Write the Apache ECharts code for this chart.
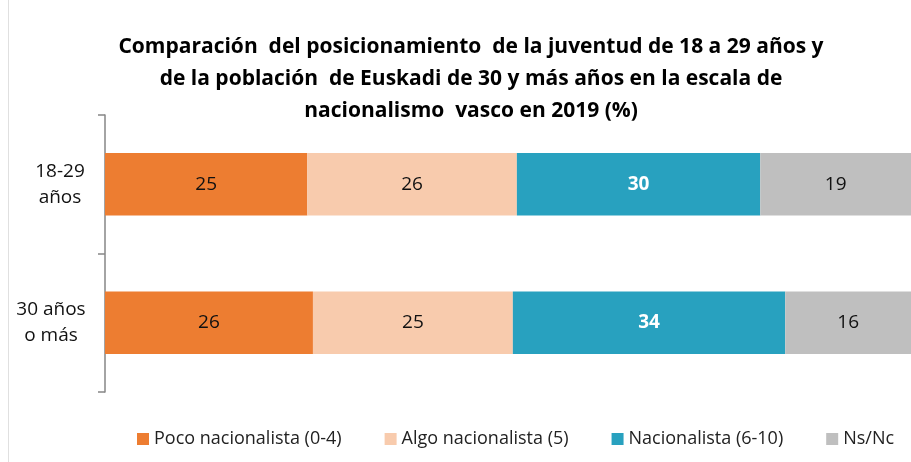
<!DOCTYPE html>
<html>
<head>
<meta charset="utf-8">
<script src="https://cdn.jsdelivr.net/npm/echarts@6/dist/echarts.min.js"></script>
<style>
  html, body { margin: 0; padding: 0; background: #fff; }
  #chart { width: 911px; height: 462px; }
</style>
</head>
<body>
<div id="chart"></div>
<script>
// categorías (filas) y series
const categories = ['18-29\naños', '30 años\no más'];
const seriesNames = ['Poco nacionalista (0-4)', 'Algo nacionalista (5)', 'Nacionalista (6-10)', 'Ns/Nc'];
const poco = [25.1, 25.8];
const algo = [26.0, 24.8];
const nacionalista = [30.2, 33.8];
const nsnc = [18.7, 15.6];

const colors = ['#ED7D31', '#F8CBAD', '#28A1BF', '#BFBFBF'];
const fontFamily = '"Open Sans", "Noto Sans", sans-serif';

const makeSeries = (name, data, color, labelColor, bold) => ({
    name: name,
    type: 'bar',
    stack: 'total',
    data: data,
    barWidth: '45%',
    itemStyle: {
        color: color
    },
    label: {
        show: true,
        position: 'inside',
        color: labelColor,
        fontSize: 19,
        fontWeight: bold ? 'bold' : 'normal',
        fontFamily: fontFamily,
        formatter: p => Math.round(p.value)
    }
});

const chart = echarts.init(document.getElementById('chart'));
chart.setOption({
    animation: false,
    graphic: [{
        type: 'line',
        shape: { x1: 8.5, y1: 0, x2: 8.5, y2: 462 },
        style: { stroke: '#e0e0e0', lineWidth: 1 }
    }],
    title: {
        text: 'Comparación  del posicionamiento  de la juventud de 18 a 29 años y\nde la población  de Euskadi de 30 y más años en la escala de\nnacionalismo  vasco en 2019 (%)',
        left: 466,
        textAlign: 'center',
        top: 26,
        textStyle: {
            fontSize: 21,
            fontWeight: 'bold',
            color: '#000',
            fontFamily: fontFamily,
            lineHeight: 32
        }
    },
    legend: {
        bottom: 9,
        left: 132,
        itemWidth: 12,
        itemHeight: 12,
        itemGap: 43,
        icon: 'rect',
        textStyle: {
            fontSize: 18,
            color: '#222',
            fontFamily: fontFamily
        },
        data: seriesNames
    },
    grid: {
        left: 105,
        right: 0,
        top: 115,
        bottom: 70,
        outerBoundsMode: 'none'
    },
    xAxis: {
        type: 'value',
        min: 0,
        max: 100,
        show: false
    },
    yAxis: {
        type: 'category',
        inverse: true,
        data: [
            { value: categories[0], textStyle: { align: 'center', padding: [0, 0, 0, 0] } },
            { value: categories[1], textStyle: { align: 'center', padding: [0, 18, 0, 0] } }
        ],
        axisLine: {
            show: true,
            lineStyle: { color: '#868686', width: 1.5 }
        },
        axisTick: {
            show: true,
            inside: false,
            length: 7,
            lineStyle: { color: '#868686', width: 1.5 }
        },
        axisLabel: {
            margin: 45,
            fontSize: 19,
            lineHeight: 26,
            color: '#111',
            fontFamily: fontFamily,
            align: 'center'
        }
    },
    series: [
        makeSeries(seriesNames[0], poco, colors[0], '#111', false),
        makeSeries(seriesNames[1], algo, colors[1], '#111', false),
        makeSeries(seriesNames[2], nacionalista, colors[2], '#fff', true),
        makeSeries(seriesNames[3], nsnc, colors[3], '#111', false)
    ]
});
</script>
</body>
</html>
